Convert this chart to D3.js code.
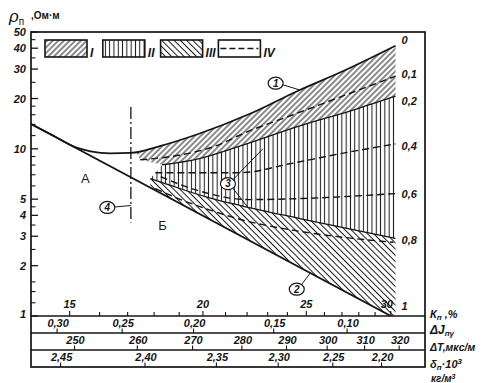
<!DOCTYPE html>
<html><head><meta charset="utf-8">
<script src="https://cdn.jsdelivr.net/npm/d3@7"></script>
<style>
body{margin:0;background:#fff;}
svg{display:block;}
text{font-family:"Liberation Sans",Arial,sans-serif;fill:#151515;}
</style></head><body>
<svg id="c" width="485" height="383"></svg>
<script>
// ---------- data ----------
const kpDomain = [13.8, 32.3];
const rhoDomain = [1, 50];
const rhoMajor = [1, 2, 3, 4, 5, 10, 20, 30, 40, 50];
const rhoMinor = [1.2, 1.4, 1.6, 2.5, 3.5, 4.5, 6, 7, 8, 9, 12, 14, 16, 18, 25, 35, 45];
const kpLabelled = [15, 20, 25, 30];
const kpMinor = [16, 17, 18, 19, 21, 22, 23, 24, 26, 27, 28, 29];
const dJTicks = [0.30, 0.25, 0.20, 0.15, 0.10];
const dJKp = [14.6, 16.8, 19.6, 23.3, 27.3];          // equivalent porosity of each ΔJnγ tick
const dTTicks = [250, 260, 270, 280, 290, 300, 310, 320];
const dTEnds = [250, 320], dTKpEnds = [15.16, 30.55];   // ΔT -> Kп (linear)
const denTicks = [2.45, 2.40, 2.35, 2.30, 2.25, 2.20];
const denEnds = [2.45, 2.20], denKpEnds = [14.71, 29.41]; // δп -> Kп (linear)

// curves: [Kп %, ρп Ом·м]
const curve0 = [[13.8,14.09],[14.39,12.27],[15.25,10.13],[15.69,9.66],[16.37,9.39],[17.12,9.45],[18.26,10.42],[19.80,12.27],[22.11,16.15],[24.65,22.5],[26.88,28.6],[30.31,41.4]];
const curve1 = [[13.8,14.09],[30.31,0.966]];
const curve01 = [[17.47,8.60],[18.86,9.09],[20.45,10.28],[22.11,12.80],[24.12,15.72],[26.88,20.39],[30.31,27.2]];
const curve02 = [[18.32,8.03],[19.80,8.72],[21.69,10.42],[24.65,13.71],[27.46,16.84],[30.31,20.68]];
const curve04 = [[18.05,7.20],[19.80,7.20],[21.69,7.20],[24.12,8.14],[26.88,9.34],[30.31,10.71]];
const curve06 = [[18.26,6.81],[19.80,5.62],[22.11,4.97],[24.65,5.04],[30.31,5.40]];
const bound08 = [[17.85,6.63],[18.32,6.28],[20.24,5.11],[21.69,4.58],[24.65,3.83],[30.31,2.91]];
const curve08 = [[18.05,5.78],[18.86,5.11],[20.12,4.39],[21.69,3.78],[24.65,3.21],[30.18,2.76]];
const kpEnd = 30.31, kpRegionI = 17.3;

const curveLabels = ["0", "0,1", "0,2", "0,4", "0,6", "0,8", "1"];
const curveLabelRho = [42.2, 26.4, 18.3, 9.86, 5.11, 2.68, 1.086];

const zoneLabels = [{t:"А", kp:15.52, rho:6.72}, {t:"Б", kp:18.33, rho:3.48}];
const callouts = [
  {n:"1", at:[23.40,24.71], to:[[24.65,22.5]]},
  {n:"2", at:[24.49,1.447], to:[[25.22,1.81]]},
  {n:"3", at:[21.11,6.19], to:[[22.76,10.0],[22.01,4.52]]},
  {n:"4", at:[16.27,4.46], to:[[17.12,4.58]]}
];
const boundaryKp = 17.12, boundaryRho = [3.63, 17.8];
const legendItems = ["I", "II", "III", "IV"];

// ---------- layout ----------
const L = 31, R = 425, T = 32, B = 316, B1 = 333, B2 = 350, B3 = 367;
const ink = "#151515";
const svg = d3.select("#c");
const x = d3.scaleLog().domain(kpDomain).range([L, R]);
const y = d3.scaleLog().domain(rhoDomain).range([B, T]);
const dJtoKp = d3.scaleLinear().domain(dJTicks).range(dJKp);
const dTtoKp = d3.scaleLinear().domain(dTEnds).range(dTKpEnds);
const denToKp = d3.scaleLinear().domain(denEnds).range(denKpEnds);
const comma = f => v => d3.format(f)(v).replace(".", ",");

const defs = svg.append("defs");
function hatch(id, angle, gap) {
  const p = defs.append("pattern").attr("id", id).attr("patternUnits", "userSpaceOnUse")
    .attr("width", gap).attr("height", gap).attr("patternTransform", `rotate(${angle})`);
  p.append("line").attr("x1", gap/2).attr("y1", -1).attr("x2", gap/2).attr("y2", gap+1)
    .attr("stroke", ink).attr("stroke-width", 1.0);
}
hatch("hI", 45, 4.0);
hatch("hII", 0, 4.3);
hatch("hIII", -45, 4.4);
defs.append("clipPath").attr("id", "pc").append("rect")
  .attr("x", L).attr("y", T).attr("width", R - L).attr("height", B - T);

function interp(c, k) {
  let i = 0;
  while (i < c.length - 2 && k > c[i+1][0]) i++;
  const [k0, r0] = c[i], [k1, r1] = c[i+1];
  const t = Math.log(k / k0) / Math.log(k1 / k0);
  return [k, Math.exp(Math.log(r0) + t * Math.log(r1 / r0))];
}
function seg(c, k0, k1) {
  const pts = [interp(c, k0)];
  c.forEach(p => { if (p[0] > k0 && p[0] < k1) pts.push(p); });
  pts.push(interp(c, k1));
  return pts;
}
const line = d3.line().x(d => x(d[0])).y(d => y(d[1]));
const smooth = d3.line().x(d => x(d[0])).y(d => y(d[1])).curve(d3.curveMonotoneX);

const plot = svg.append("g").attr("clip-path", "url(#pc)");

// regions
const regI = seg(curve0, kpRegionI, kpEnd).concat(curve02.slice().reverse(), [curve01[0]]);
const regII = curve02.concat(bound08.slice().reverse());
const regIII = bound08.concat(seg(curve1, bound08[0][0], kpEnd).reverse());
[[regI, "hI"], [regII, "hII"], [regIII, "hIII"]].forEach(([r, id]) => {
  plot.append("path").attr("d", line(r) + "Z").attr("fill", `url(#${id})`).attr("stroke", "none");
});

// curves
plot.append("path").attr("d", smooth(curve0)).attr("fill", "none").attr("stroke", ink).attr("stroke-width", 1.8);
plot.append("path").attr("d", line(curve1)).attr("fill", "none").attr("stroke", ink).attr("stroke-width", 1.8);
[curve02, bound08].forEach(c => plot.append("path").attr("d", smooth(c)).attr("fill", "none").attr("stroke", ink).attr("stroke-width", 1.3));
[curve01, curve04, curve06, curve08].forEach(c => plot.append("path").attr("d", smooth(c)).attr("fill", "none")
  .attr("stroke", ink).attr("stroke-width", 1.4).attr("stroke-dasharray", "7,4"));

// boundary 4 (dash-dot)
svg.append("line").attr("x1", x(boundaryKp)).attr("x2", x(boundaryKp))
  .attr("y1", y(boundaryRho[1])).attr("y2", y(boundaryRho[0]))
  .attr("stroke", ink).attr("stroke-width", 1.3).attr("stroke-dasharray", "12,3,2,3");

// zone labels
svg.selectAll(".zone").data(zoneLabels).join("text").attr("class", "zone")
  .attr("x", d => x(d.kp)).attr("y", d => y(d.rho) + 5).attr("text-anchor", "middle")
  .attr("font-size", 13).text(d => d.t);

// callouts
callouts.forEach(c => {
  const cx = x(c.at[0]), cy = y(c.at[1]);
  c.to.forEach(t => {
    const tx = x(t[0]), ty = y(t[1]);
    const dx = tx - cx, dy = ty - cy, len = Math.hypot(dx, dy);
    const ex = 7.5 * dx / len, ey = 6 * dy / len;
    svg.append("line").attr("x1", cx + ex).attr("y1", cy + ey).attr("x2", tx).attr("y2", ty)
      .attr("stroke", ink).attr("stroke-width", 1);
  });
  svg.append("ellipse").attr("cx", cx).attr("cy", cy).attr("rx", 7.5).attr("ry", 6)
    .attr("fill", "#fff").attr("stroke", ink).attr("stroke-width", 1.2);
  svg.append("text").attr("x", cx).attr("y", cy + 3.5).attr("text-anchor", "middle")
    .attr("font-size", 10).attr("font-style", "italic").attr("font-weight", "bold").text(c.n);
});

// curve labels on the right
svg.selectAll(".cl").data(curveLabels).join("text").attr("class", "cl")
  .attr("x", (d, i) => i === 6 ? x(kpEnd) + 6 : x(kpEnd) + 6)
  .attr("y", (d, i) => y(curveLabelRho[i]))
  .attr("font-size", 11).attr("font-style", "italic").attr("font-weight", "bold").text(d => d);

// frame and band lines
svg.append("rect").attr("x", L).attr("y", T).attr("width", R - L).attr("height", B3 - T)
  .attr("fill", "none").attr("stroke", ink).attr("stroke-width", 1.7);
[B, B1, B2].forEach(v => svg.append("line").attr("x1", L).attr("x2", R).attr("y1", v).attr("y2", v)
  .attr("stroke", ink).attr("stroke-width", 1.6));

// y axis ticks
svg.selectAll(".ymaj").data(rhoMajor).join("line").attr("class", "ymaj")
  .attr("x1", L).attr("x2", L + 7).attr("y1", d => y(d)).attr("y2", d => y(d)).attr("stroke", ink).attr("stroke-width", 1.3);
svg.selectAll(".ymin").data(rhoMinor).join("line").attr("class", "ymin")
  .attr("x1", L).attr("x2", L + 4.5).attr("y1", d => y(d)).attr("y2", d => y(d)).attr("stroke", ink).attr("stroke-width", 1.1);
svg.selectAll(".yl").data(rhoMajor).join("text").attr("class", "yl")
  .attr("x", 26).attr("y", d => d === 1 ? y(d) + 2 : y(d) + 4).attr("text-anchor", "end")
  .attr("font-size", 11).attr("font-style", "italic").attr("font-weight", "bold").text(d => d);

// Kп axis
svg.selectAll(".kmin").data(kpMinor.concat(kpLabelled)).join("line").attr("class", "kmin")
  .attr("x1", d => x(d)).attr("x2", d => x(d)).attr("y1", B).attr("y2", d => kpLabelled.includes(d) ? B - 5 : B - 4)
  .attr("stroke", ink).attr("stroke-width", 1.1);
svg.selectAll(".kl").data(kpLabelled).join("text").attr("class", "kl")
  .attr("x", d => d === 30 ? x(d) - 4 : x(d)).attr("y", B - 8).attr("text-anchor", "middle")
  .attr("font-size", 11).attr("font-style", "italic").attr("font-weight", "bold").text(d => d);

// secondary scales
function band(ticks, toKp, base, fmt) {
  const g = svg.append("g");
  g.selectAll("line").data(ticks).join("line")
    .attr("x1", d => x(toKp(d))).attr("x2", d => x(toKp(d))).attr("y1", base).attr("y2", base - 4.5)
    .attr("stroke", ink).attr("stroke-width", 1.1);
  g.selectAll("text").data(ticks).join("text")
    .attr("x", d => x(toKp(d)) + 1).attr("y", base - 6).attr("text-anchor", "middle")
    .attr("font-size", 11).attr("font-style", "italic").attr("font-weight", "bold").text(fmt);
}
band(dJTicks, dJtoKp, B1, comma(".2f"));
band(dTTicks, dTtoKp, B2, d => d);
band(denTicks, denToKp, B3, comma(".2f"));

// right-hand axis names
const nm = svg.append("g").attr("font-style", "italic").attr("font-weight", "bold").attr("font-size", 11);
let t = nm.append("text").attr("x", 430).attr("y", 318);
t.append("tspan").text("К");
t.append("tspan").attr("font-size", 8).attr("dy", 2).text("п");
t.append("tspan").attr("dy", -2).text(" ,%");
t = nm.append("text").attr("x", 430).attr("y", 334);
t.append("tspan").attr("font-size", 12).text("ΔJ");
t.append("tspan").attr("font-size", 8).attr("dy", 2).text("пγ");
t = nm.append("text").attr("x", 430).attr("y", 351);
t.append("tspan").attr("font-size", 10.5).text("ΔT,мкс/м");
t = nm.append("text").attr("x", 430).attr("y", 368);
t.append("tspan").text("δ");
t.append("tspan").attr("font-size", 8).attr("dy", 2).text("п");
t.append("tspan").attr("dy", -2).text("·10");
t.append("tspan").attr("font-size", 8).attr("dy", -4).text("3");
t = nm.append("text").attr("x", 431).attr("y", 382);
t.append("tspan").attr("font-size", 10).text("кг/м");
t.append("tspan").attr("font-size", 7).attr("dy", -3).text("3");

// y axis title
t = svg.append("text").attr("x", 9).attr("y", 22);
t.append("tspan").attr("font-size", 17).attr("font-style", "italic").text("ρ");
t.append("tspan").attr("font-size", 10).attr("dy", 3).text("п");
svg.append("text").attr("x", 31).attr("y", 19).attr("font-size", 10).attr("font-weight", "bold").text(",Ом·м");

// legend
const lg = svg.append("g");
legendItems.forEach((d, i) => {
  const bx = 45 + i * 57.8, by = 40, bw = 42, bh = 17;
  lg.append("rect").attr("x", bx).attr("y", by).attr("width", bw).attr("height", bh)
    .attr("fill", i < 3 ? `url(#h${d})` : "#fff").attr("stroke", ink).attr("stroke-width", 1.6);
  if (i === 3) lg.append("line").attr("x1", bx + 2).attr("x2", bx + bw - 2).attr("y1", by + bh/2).attr("y2", by + bh/2)
    .attr("stroke", ink).attr("stroke-width", 1.3).attr("stroke-dasharray", "6,3");
  lg.append("text").attr("x", bx + bw + 3).attr("y", by + bh).attr("font-family", "Liberation Serif")
    .attr("font-style", "italic").attr("font-weight", "bold").attr("font-size", 12).text(d);
});
</script>
</body></html>
